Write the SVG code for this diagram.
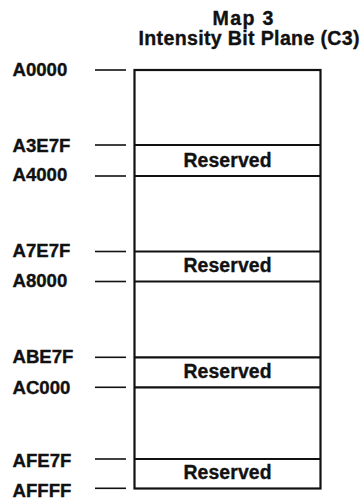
<svg xmlns="http://www.w3.org/2000/svg" width="363" height="500" viewBox="0 0 363 500">
<style>
text{font-family:"Liberation Sans",Arial,Helvetica,sans-serif;font-weight:bold;fill:#111;stroke:#111;stroke-width:0.35;}
.lbl{font-size:18.6px;}
.res{font-size:19.4px;text-anchor:middle;}
.ttl{font-size:19.6px;text-anchor:middle;}
.box{fill:#fff;stroke:#111;stroke-width:2.2;}
.sep{stroke:#111;stroke-width:2.2;}
.tick{stroke:#111;stroke-width:1.6;}
</style>
<rect width="363" height="500" fill="#fff"/>
<g id="title">
<text class="ttl" x="243" y="25" textLength="61" lengthAdjust="spacing">Map 3</text>
<text class="ttl" x="249" y="45" textLength="221" lengthAdjust="spacing">Intensity Bit Plane (C3)</text>
</g>
<g id="map">
<rect class="box" x="134.5" y="70" width="186" height="418.5"/>
</g>
<g id="reserved1">
<line class="sep" x1="134.5" y1="145" x2="320.5" y2="145"/>
<line class="sep" x1="134.5" y1="176" x2="320.5" y2="176"/>
<text class="res" x="227.5" y="166.7" textLength="88" lengthAdjust="spacing">Reserved</text>
</g>
<g id="reserved2">
<line class="sep" x1="134.5" y1="251.5" x2="320.5" y2="251.5"/>
<line class="sep" x1="134.5" y1="281.5" x2="320.5" y2="281.5"/>
<text class="res" x="227.5" y="272" textLength="88" lengthAdjust="spacing">Reserved</text>
</g>
<g id="reserved3">
<line class="sep" x1="134.5" y1="357.3" x2="320.5" y2="357.3"/>
<line class="sep" x1="134.5" y1="387.3" x2="320.5" y2="387.3"/>
<text class="res" x="227.5" y="378.3" textLength="88" lengthAdjust="spacing">Reserved</text>
</g>
<g id="reserved4">
<line class="sep" x1="134.5" y1="459" x2="320.5" y2="459"/>
<text class="res" x="227.5" y="478.5" textLength="88" lengthAdjust="spacing">Reserved</text>
</g>
<g id="connectors">
<line class="tick" x1="95" y1="70" x2="126" y2="70"/>
<line class="tick" x1="95" y1="145" x2="126" y2="145"/>
<line class="tick" x1="95" y1="176" x2="126" y2="176"/>
<line class="tick" x1="95" y1="251.5" x2="126" y2="251.5"/>
<line class="tick" x1="95" y1="281.5" x2="126" y2="281.5"/>
<line class="tick" x1="95" y1="357.3" x2="126" y2="357.3"/>
<line class="tick" x1="95" y1="387.3" x2="126" y2="387.3"/>
<line class="tick" x1="95" y1="459" x2="126" y2="459"/>
<line class="tick" x1="95" y1="488.3" x2="126" y2="488.3"/>
</g>
<g id="labels">
<text class="lbl" x="12.5" y="75.8">A0000</text>
<text class="lbl" x="12.5" y="151.5">A3E7F</text>
<text class="lbl" x="12.5" y="180.5">A4000</text>
<text class="lbl" x="12.5" y="256.7">A7E7F</text>
<text class="lbl" x="12.5" y="286.7">A8000</text>
<text class="lbl" x="12.5" y="363.3">ABE7F</text>
<text class="lbl" x="12.5" y="393.5">AC000</text>
<text class="lbl" x="12.5" y="466.7">AFE7F</text>
<text class="lbl" x="12.5" y="496.5">AFFFF</text>
</g>
</svg>
